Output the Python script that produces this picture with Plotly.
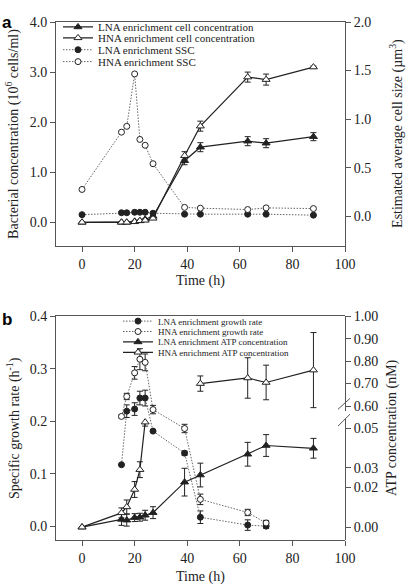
import plotly.graph_objects as go

# ---------------- data: panel a ----------------
time_a = [0, 15, 17, 20, 22, 24, 27, 39, 45, 63, 70, 88]
lna_cell = [0.00, 0.00, 0.00, 0.02, 0.03, 0.06, 0.12, 1.23, 1.50, 1.62, 1.58, 1.71]
lna_cell_err = [0, 0, 0, 0.01, 0.01, 0.01, 0.02, 0.08, 0.09, 0.09, 0.09, 0.08]
hna_cell = [0.00, 0.00, 0.00, 0.01, 0.03, 0.04, 0.08, 1.33, 1.92, 2.90, 2.85, 3.10]
hna_cell_err = [0, 0, 0, 0.01, 0.01, 0.01, 0.02, 0.08, 0.10, 0.10, 0.11, 0.02]
lna_ssc = [0.015, 0.035, 0.035, 0.04, 0.04, 0.04, 0.03, 0.02, 0.02, 0.02, 0.02, 0.01]
hna_ssc = [0.275, 0.865, 0.925, 1.465, 0.79, 0.73, 0.54, 0.09, 0.082, 0.068, 0.085, 0.078]

# ---------------- data: panel b ----------------
time_growth = [15, 17, 20, 22, 24, 27, 39, 45, 63, 70]
lna_growth = [0.117, 0.219, 0.223, 0.244, 0.244, 0.181, 0.139, 0.017, 0.002, 0.000]
lna_growth_err = [0.0, 0.012, 0.012, 0.013, 0.015, 0.0, 0.004, 0.012, 0.010, 0.004]
hna_growth = [0.209, 0.247, 0.292, 0.318, 0.312, 0.222, 0.186, 0.051, 0.026, 0.006]
hna_growth_err = [0.003, 0.006, 0.012, 0.020, 0.016, 0.008, 0.008, 0.010, 0.006, 0.005]

time_atp = [0, 15, 17, 20, 22, 24, 27, 39, 45, 63, 70, 88]
lna_atp = [0.0, 0.0039, 0.0035, 0.0048, 0.005, 0.006, 0.0073, 0.0227, 0.0263, 0.0368, 0.0412, 0.0398]
lna_atp_err = [0, 0.003, 0.003, 0.002, 0.002, 0.0025, 0.003, 0.007, 0.006, 0.006, 0.0055, 0.005]
time_hna_atp_low = [0, 15, 17, 20, 22, 24]
hna_atp_low = [0.0, 0.0072, 0.0102, 0.019, 0.029, 0.053]
hna_atp_low_err = [0, 0.0025, 0.0035, 0.004, 0.004, 0.002]
time_hna_atp_high = [45, 63, 70, 88]
hna_atp_high = [0.70, 0.725, 0.705, 0.76]
hna_atp_high_err = [0.034, 0.09, 0.077, 0.167]

x_ticks = [0, 20, 40, 60, 80, 100]

FONT = "Liberation Serif"
DARK = "#222222"
GRAY = "#666666"
AX = "#555555"
DOT = "1.5px,1.5px"

W, H = 406, 584
ML, MR, MT, MB = 56, 61, 17, 44
PW, PH = W - ML - MR, H - MT - MB


def py(p):
    return (H - MB - p) / PH


def px(p):
    return (p - ML) / PW


def err(arr):
    return dict(type="data", array=arr, visible=True, color=DARK, thickness=1, width=3)


def mk(symbol, filled, size=7):
    return dict(symbol=symbol, size=size, color=DARK if filled else "white",
                line=dict(color=DARK, width=1))


fig = go.Figure()

# panel a
fig.add_trace(go.Scatter(x=time_a, y=lna_cell, error_y=err(lna_cell_err), mode="lines+markers",
                         name="LNA enrichment cell concentration", line=dict(color=DARK, width=1.2),
                         marker=mk("triangle-up", True), xaxis="x", yaxis="y", legend="legend"))
fig.add_trace(go.Scatter(x=time_a, y=hna_cell, error_y=err(hna_cell_err), mode="lines+markers",
                         name="HNA enrichment cell concentration", line=dict(color=DARK, width=1.2),
                         marker=mk("triangle-up", False), xaxis="x", yaxis="y", legend="legend2"))
fig.add_trace(go.Scatter(x=time_a, y=lna_ssc, mode="lines+markers",
                         name="LNA enrichment SSC", line=dict(color=GRAY, width=1, dash=DOT),
                         marker=mk("circle", True, 6), xaxis="x", yaxis="y2", legend="legend3"))
fig.add_trace(go.Scatter(x=time_a, y=hna_ssc, mode="lines+markers",
                         name="HNA enrichment SSC", line=dict(color=GRAY, width=1, dash=DOT),
                         marker=mk("circle", False, 6), xaxis="x", yaxis="y2", legend="legend4"))

# panel b
fig.add_trace(go.Scatter(x=time_growth, y=lna_growth, error_y=err(lna_growth_err), mode="lines+markers",
                         name="LNA enrichment growth rate", line=dict(color=GRAY, width=1, dash=DOT),
                         marker=mk("circle", True, 6), xaxis="x2", yaxis="y3", legend="legend5"))
fig.add_trace(go.Scatter(x=time_growth, y=hna_growth, error_y=err(hna_growth_err), mode="lines+markers",
                         name="HNA enrichment growth rate", line=dict(color=GRAY, width=1, dash=DOT),
                         marker=mk("circle", False, 6), xaxis="x2", yaxis="y3", legend="legend6"))
fig.add_trace(go.Scatter(x=time_atp, y=lna_atp, error_y=err(lna_atp_err), mode="lines+markers",
                         name="LNA enrichment ATP concentration", line=dict(color=DARK, width=1.2),
                         marker=mk("triangle-up", True), xaxis="x2", yaxis="y4", legend="legend7"))
fig.add_trace(go.Scatter(x=time_hna_atp_low, y=hna_atp_low, error_y=err(hna_atp_low_err), mode="lines+markers",
                         name="HNA enrichment ATP concentration", line=dict(color=DARK, width=1.2),
                         marker=mk("triangle-up", False), xaxis="x2", yaxis="y4", legend="legend8",
                         cliponaxis=False))
fig.add_trace(go.Scatter(x=time_hna_atp_high, y=hna_atp_high, error_y=err(hna_atp_high_err), mode="lines+markers",
                         name="HNA enrichment ATP concentration", line=dict(color=DARK, width=1.2),
                         marker=mk("triangle-up", False), xaxis="x2", yaxis="y5", showlegend=False))

axis_common = dict(showline=True, linecolor=AX, linewidth=1, ticks="outside", ticklen=5,
                   tickcolor=AX, showgrid=False, zeroline=False,
                   tickfont=dict(family=FONT, size=14, color=DARK))

fig.update_layout(
    width=W, height=H, margin=dict(l=ML, r=MR, t=MT, b=MB),
    paper_bgcolor="white", plot_bgcolor="rgba(0,0,0,0)",
    font=dict(family=FONT, color=DARK),
    xaxis=dict(axis_common, domain=[0, 1], range=[-9.9, 100], tickvals=x_ticks, anchor="y", mirror=True),
    yaxis=dict(axis_common, domain=[py(243), 1], range=[-0.47, 4.0], tickvals=[0, 1, 2, 3, 4],
               tickformat=".1f", anchor="x"),
    yaxis2=dict(axis_common, overlaying="y", side="right", range=[-0.306, 2.0],
                tickvals=[0, 0.5, 1.0, 1.5, 2.0], tickformat=".1f", anchor="x"),
    xaxis2=dict(axis_common, domain=[0, 1], range=[-9.9, 100], tickvals=x_ticks, anchor="y3", mirror=True),
    yaxis3=dict(axis_common, domain=[0, py(314)], range=[-0.0264, 0.4], tickvals=[0, 0.1, 0.2, 0.3, 0.4],
                tickformat=".1f", anchor="x2"),
    yaxis4=dict(axis_common, domain=[0, py(418)], range=[-0.0065, 0.0545], side="right",
                tickvals=[0, 0.02, 0.03, 0.05], tickformat=".2f", anchor="x2"),
    yaxis5=dict(axis_common, domain=[py(410), py(314)], range=[0.577, 1.0], side="right",
                tickvals=[0.6, 0.7, 0.8, 0.9, 1.0], tickformat=".2f", anchor="x2"),
    showlegend=True,
)

# one legend per entry so that rows can sit as tightly as in the reference
rows_a = [22, 33, 45, 57]
rows_b = [319, 329.5, 340, 350.5]
leg_layout = {}
for i, yrow in enumerate(rows_a):
    key = "legend" if i == 0 else f"legend{i + 1}"
    leg_layout[key] = dict(x=px(58), y=py(yrow), xanchor="left", yanchor="middle",
                           bgcolor="rgba(0,0,0,0)", font=dict(family=FONT, size=11, color=DARK),
                           itemwidth=30)
for i, yrow in enumerate(rows_b):
    key = f"legend{i + 5}"
    leg_layout[key] = dict(x=px(118), y=py(yrow), xanchor="left", yanchor="middle",
                           bgcolor="rgba(0,0,0,0)", font=dict(family=FONT, size=9, color=DARK),
                           itemwidth=30)
fig.update_layout(**leg_layout)

ann = [
    dict(text="<b>a</b>", x=px(7), y=py(17), font=dict(family="Liberation Sans", size=17, color="black")),
    dict(text="<b>b</b>", x=px(7), y=py(317), font=dict(family="Liberation Sans", size=17, color="black")),
    dict(text="Bacterial concentration (10<sup>6</sup> cells/ml)", x=px(13), y=py(130), textangle=-90,
         font=dict(family=FONT, size=14, color=DARK)),
    dict(text="Estimated average cell size (µm<sup>3</sup>)", x=px(397), y=py(130), textangle=-90,
         font=dict(family=FONT, size=14, color=DARK)),
    dict(text="Time (h)", x=px(200), y=py(278), font=dict(family=FONT, size=14, color=DARK)),
    dict(text="Specific growth rate (h<sup>-1</sup>)", x=px(13), y=py(427), textangle=-90,
         font=dict(family=FONT, size=14, color=DARK)),
    dict(text="ATP concentration (nM)", x=px(392), y=py(427), textangle=-90,
         font=dict(family=FONT, size=14, color=DARK)),
    dict(text="Time (h)", x=px(200), y=py(577), font=dict(family=FONT, size=14, color=DARK)),
]
for a in ann:
    a.update(xref="paper", yref="paper", showarrow=False, xanchor="center", yanchor="middle")
fig.update_layout(annotations=ann)

# axis-break marks on the ATP axis
for y0, y1 in [(408, 397), (425, 413)]:
    fig.add_shape(type="line", xref="paper", yref="paper", x0=px(338), x1=px(350), y0=py(y0), y1=py(y1),
                  line=dict(color=AX, width=1))

fig.write_html("out.html", config={"displayModeBar": False},
               post_script="document.body.style.margin='0';document.body.style.padding='0';")
